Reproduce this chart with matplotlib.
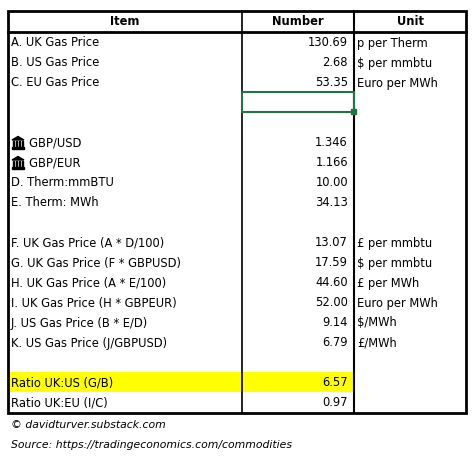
import matplotlib
matplotlib.use("Agg")
import matplotlib.pyplot as plt
from matplotlib.patches import Rectangle

headers = ["Item", "Number", "Unit"]
items = ["A. UK Gas Price", "B. US Gas Price", "C. EU Gas Price", "", "",
         "\u00a0\u00a0\u00a0\u00a0\u00a0GBP/USD", "\u00a0\u00a0\u00a0\u00a0\u00a0GBP/EUR", "D. Therm:mmBTU", "E. Therm: MWh", "",
         "F. UK Gas Price (A * D/100)", "G. UK Gas Price (F * GBPUSD)", "H. UK Gas Price (A * E/100)",
         "I. UK Gas Price (H * GBPEUR)", "J. US Gas Price (B * E/D)", "K. US Gas Price (J/GBPUSD)", "",
         "Ratio UK:US (G/B)", "Ratio UK:EU (I/C)"]
numbers = ["130.69", "2.68", "53.35", "", "", "1.346", "1.166", "10.00", "34.13", "",
           "13.07", "17.59", "44.60", "52.00", "9.14", "6.79", "", "6.57", "0.97"]
units = ["p per Therm", "$ per mmbtu", "Euro per MWh", "", "", "", "", "", "", "",
         "\u00a3 per mmbtu", "$ per mmbtu", "\u00a3 per MWh", "Euro per MWh", "$/MWh", "\u00a3/MWh", "", "", ""]
bank_rows = [5, 6]
highlight_row = 17
selected_row = 3
footer = ["\u00a9 davidturver.substack.com", "Source: https://tradingeconomics.com/commodities"]

fig = plt.figure(figsize=(4.73, 4.57), dpi=100)
ax = fig.add_axes([0, 0, 1, 1])
ax.set_xlim(0, 473); ax.set_ylim(457, 0); ax.axis("off")
fs = 8.3
L, R, C1, C2 = 8, 466, 242, 354
top, hb = 11, 32
rh = 20
bottom = hb + rh * len(items) + 1

ax.add_patch(Rectangle((L, hb + rh*highlight_row), C2 - L, rh, color="#FFFF00", lw=0, zorder=0))
ax.add_patch(Rectangle((C1, hb + rh*selected_row), C2 - C1, rh, fill=False, ec="#217346", lw=1.5, zorder=3))
ax.add_patch(Rectangle((C2 - 3, hb + rh*(selected_row+1) - 3), 5, 5, color="#217346", zorder=4))

ax.add_patch(Rectangle((L, top), R - L, bottom - top, fill=False, ec="black", lw=2, zorder=2))
ax.plot([L, R], [hb, hb], color="black", lw=2)
for x in (C1, C2):
    ax.plot([x, x], [top, bottom], color="black", lw=1.2 if x == C1 else 1.5)

ax.text((L+C1)/2, (top+hb)/2, headers[0], ha="center", va="center", fontsize=fs, fontweight="bold")
ax.text((C1+C2)/2, (top+hb)/2, headers[1], ha="center", va="center", fontsize=fs, fontweight="bold")
ax.text((C2+R)/2, (top+hb)/2, headers[2], ha="center", va="center", fontsize=fs, fontweight="bold")

for i, (it, nm, un) in enumerate(zip(items, numbers, units)):
    y = hb + rh*i + rh/2 + 1
    ax.text(L + 3, y, it, ha="left", va="center", fontsize=fs)
    ax.text(C2 - 6, y, nm, ha="right", va="center", fontsize=fs)
    ax.text(C2 + 3, y, un, ha="left", va="center", fontsize=fs)
    if i in bank_rows:
        # small bank icon
        bx, by = L + 4, y
        ax.add_patch(Rectangle((bx, by + 4), 12, 1.5, color="black"))
        ax.fill([bx, bx + 12, bx + 6], [by - 3, by - 3, by - 6.5], color="black")
        for k in range(4):
            ax.add_patch(Rectangle((bx + 1 + k*3, by - 2), 1.2, 6, color="black"))

ax.text(L + 3, 425, footer[0], ha="left", va="center", fontsize=7.8, style="italic")
ax.text(L + 3, 445, footer[1], ha="left", va="center", fontsize=7.8, style="italic")
fig.savefig("out.png", dpi=100)
